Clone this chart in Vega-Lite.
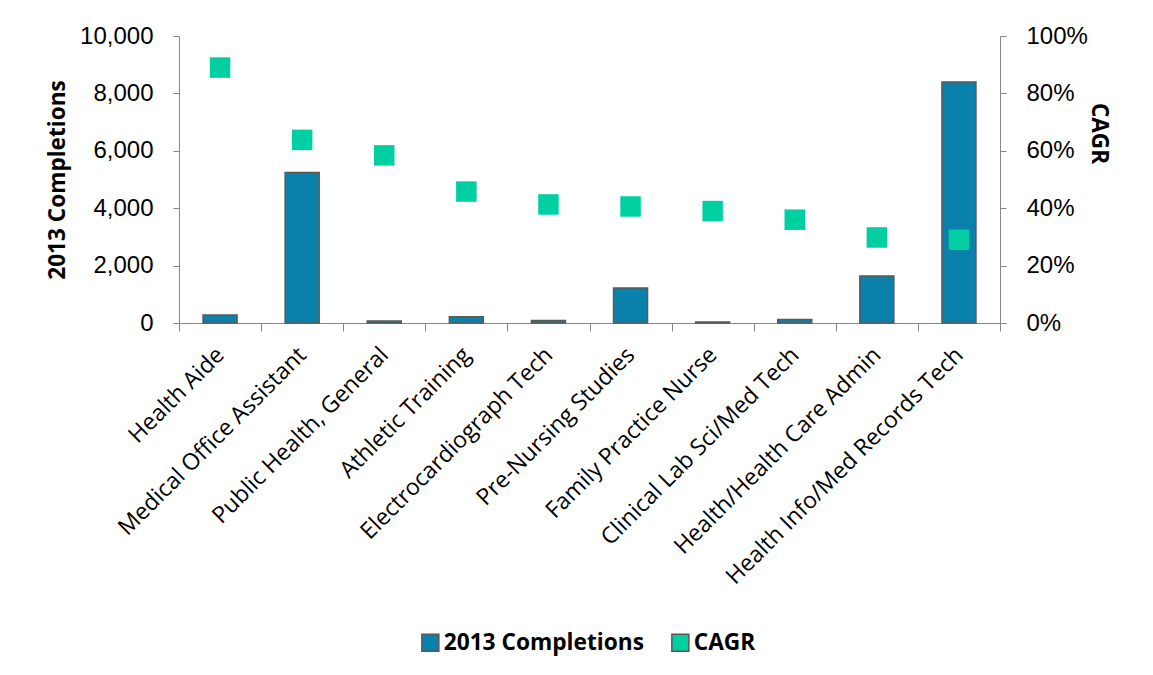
{
  "$schema": "https://vega.github.io/schema/vega-lite/v6.json",
  "width": 821,
  "height": 287,
  "autosize": {"type": "none"},
  "padding": {"left": 179, "top": 36, "right": 153, "bottom": 352},
  "background": "white",
  "config": {
    "view": {"stroke": null},
    "font": "Open Sans",
    "axis": {"grid": false, "domainColor": "#868686", "tickColor": "#868686", "labelColor": "#000000", "titleColor": "#000000"}
  },
  "data": {
    "values": [
      {"program": "Health Aide", "completions": 280, "cagr": 0.89},
      {"program": "Medical Office Assistant", "completions": 5240, "cagr": 0.638},
      {"program": "Public Health, General", "completions": 70, "cagr": 0.584},
      {"program": "Athletic Training", "completions": 220, "cagr": 0.458},
      {"program": "Electrocardiograph Tech", "completions": 90, "cagr": 0.413},
      {"program": "Pre-Nursing Studies", "completions": 1220, "cagr": 0.406},
      {"program": "Family Practice Nurse", "completions": 35, "cagr": 0.39},
      {"program": "Clinical Lab Sci/Med Tech", "completions": 120, "cagr": 0.36},
      {"program": "Health/Health Care Admin", "completions": 1640, "cagr": 0.298},
      {"program": "Health Info/Med Records Tech", "completions": 8400, "cagr": 0.29}
    ]
  },
  "encoding": {
    "x": {
      "field": "program",
      "type": "nominal",
      "sort": null,
      "scale": {"paddingInner": 0, "paddingOuter": 0},
      "axis": {
        "title": null,
        "labelAngle": -45,
        "labelAlign": "right",
        "labelBaseline": "middle",
        "labelFontSize": 23,
        "labelPadding": 20,
        "tickBand": "extent",
        "tickSize": 8,
        "labelFont": "Open Sans",
        "labelLimit": 500
      }
    }
  },
  "layer": [
    {
      "mark": {"type": "bar", "size": 34, "stroke": "#595959", "strokeWidth": 1.5},
      "encoding": {
        "y": {
          "field": "completions",
          "type": "quantitative",
          "scale": {"domain": [0, 10000]},
          "axis": {
            "title": "2013 Completions",
            "titleFontSize": 22.6,
            "titleFontWeight": "bold",
            "titleFont": "Open Sans",
            "titleX": -122,
            "titleY": 143.5,
            "titleAngle": -90,
            "titleAlign": "center",
            "titleBaseline": "middle",
            "labelFontSize": 24,
            "labelFont": "Liberation Sans",
            "labelPadding": 20,
            "tickSize": 6,
            "format": ",.0f",
            "values": [0, 2000, 4000, 6000, 8000, 10000]
          }
        },
        "color": {
          "datum": "2013 Completions",
          "type": "nominal",
          "scale": {"domain": ["2013 Completions", "CAGR"], "range": ["#0A81AB", "#00CFA2"]},
          "legend": {
            "title": null,
            "orient": "none",
            "direction": "horizontal",
            "legendX": 240,
            "legendY": 595,
            "symbolType": "square",
            "symbolSize": 289,
            "labelFontSize": 22.7,
            "labelFontWeight": "bold",
            "labelFont": "Open Sans",
            "labelColor": "#000000",
            "labelLimit": 400,
            "columnPadding": 24,
            "labelOffset": 2
          }
        }
      }
    },
    {
      "mark": {"type": "point", "shape": "square", "filled": true, "size": 420, "opacity": 1},
      "encoding": {
        "y": {
          "field": "cagr",
          "type": "quantitative",
          "scale": {"domain": [0, 1]},
          "axis": {
            "orient": "right",
            "title": "CAGR",
            "titleFontSize": 22.6,
            "titleFontWeight": "bold",
            "titleFont": "Open Sans",
            "titleX": 98,
            "titleY": 97,
            "titleAngle": 90,
            "titleAlign": "center",
            "titleBaseline": "middle",
            "labelFontSize": 24,
            "labelFont": "Liberation Sans",
            "labelPadding": 20,
            "tickSize": 6,
            "format": ".0%",
            "values": [0, 0.2, 0.4, 0.6, 0.8, 1]
          }
        },
        "color": {"datum": "CAGR", "type": "nominal"}
      }
    }
  ],
  "resolve": {"scale": {"y": "independent"}}
}
